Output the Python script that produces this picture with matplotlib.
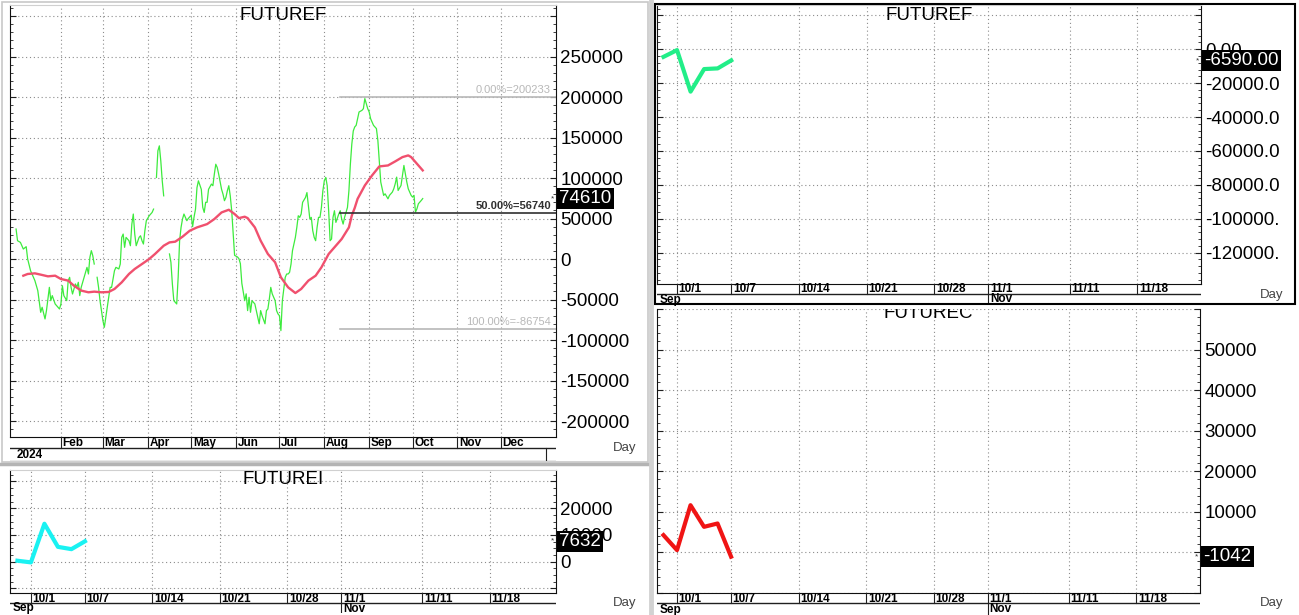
import numpy as np
import pandas as pd
import matplotlib
matplotlib.use("Agg")
import matplotlib.pyplot as plt
import matplotlib.dates as mdates
import matplotlib.transforms as mtransforms
from matplotlib.ticker import MultipleLocator, FuncFormatter
from matplotlib.lines import Line2D
from matplotlib.patches import Rectangle

plt.rcParams['font.family'] = ['Liberation Sans', 'DejaVu Sans']
NARROW = ['Liberation Sans Narrow', 'Liberation Sans']
nan = np.nan

W, H = 1299, 615

# daily FUTUREF 2024, x = days after 2024-01-01
ff_days = [0, 1, 3, 5, 7, 8, 10, 13, 15, 17,
           18, 20, 21, 23, 24, 25, 27, 29, 30, 31,
           32, 33, 35, 36, 37, 38, 39, 41, 42, 43,
           44, 45, 46, 47, 49, 50, 51, 52, 53, 54,
           55, 56, 57, 58, 59, 60, 61, 63, 64, 65,
           66, 68, 69, 71, 72, 73, 74, 75, 76, 78,
           79, 80, 81, 82, 83, 85, 86, 87, 88, 89,
           90, 92, 94, 95, 96, 97, 98, 99, 100, 101,
           102, 104, 106, 107, 108, 109, 111, 112, 113, 114,
           115, 116, 118, 119, 121, 122, 123, 124, 125, 126,
           128, 129, 130, 131, 132, 133, 135, 136, 137, 138,
           139, 140, 142, 143, 144, 145, 146, 147, 148, 149,
           150, 151, 153, 154, 155, 156, 158, 159, 160, 161,
           162, 163, 165, 166, 167, 168, 169, 170, 172, 173,
           174, 175, 176, 177, 179, 180, 181, 182, 183, 184,
           186, 187, 188, 189, 190, 191, 193, 194, 195, 196,
           197, 198, 200, 201, 202, 203, 204, 205, 206, 207,
           208, 209, 210, 211, 212, 213, 214, 215, 216, 217,
           218, 219, 220, 221, 223, 224, 225, 226, 227, 229,
           230, 231, 232, 233, 234, 235, 236, 237, 239, 240,
           241, 242, 243, 244, 245, 246, 247, 248, 249, 250,
           251, 252, 253, 254, 255, 257, 258, 259, 260, 261,
           262, 263, 264, 266, 267, 268, 269, 270, 271, 272,
           273, 274, 275, 276, 277, 278, 279, 280, 281]
ff_vals = [37000, 22600, 20500, 12300, 15200, 0, -14400, -26700, -39000, -65800,
           -59600, -74000, -63700, -35000, -51400, -45200, -55500, -59600, -61700, -55500,
           -33000, -45200, -51400, -26700, -22600, -35000, -43200, -30800, -35000, -28800,
           -45200, -35000, -28800, -22600, -10300, -18500, 2000, 10300, 4100, -6200,
           nan, -22600, -35000, -51400, -63700, -76000, -84300, -59600, -47300, -35000,
           -35000, -14400, -10300, -12300, -6200, 26700, 30800, 14400, 26700, 22600,
           16400, 43100, 55500, 30800, 16400, 26700, 28700, 22600, 18500, 34900,
           47250, 53400, 57500, 61600, nan, 100700, 133600, 139700, 121200, 96600,
           78000, nan, 6200, -4100, -30800, -51400, -55500, -22600, 22600, 39000,
           49300, 55500, 47300, 50000, 54000, 40000, 52000, 61600, 88000, 96500,
           86000, 63700, 57500, 70000, 70000, 86000, 92500, 90500, 104800, 117000,
           113000, 104800, 86000, 80000, 72000, 76000, 84300, 90500, 78000, 59600,
           31000, 4500, 2500, 400, -5700, -30000, -51400, -43000, -63700, -47300,
           -65800, -51400, -55500, -63700, -72000, -80000, -63700, -70000, -80000, -63700,
           -61700, -49300, -35000, -43000, -51400, -63700, -67800, -70000, -88400, -51400,
           -22600, -18500, -18500, -16400, -6200, 10300, 26700, 39000, 53400, 51400,
           55500, 70000, 76000, 82000, 65800, 49300, 51400, 35000, 26700, 22600,
           39000, 51400, 51400, 63700, 84200, 96600, 100700, 90500, 59600, 22600,
           24700, 51400, 59600, 45200, 55500, 59600, 49300, 43100, 51400, 63700,
           84200, 117000, 141800, 158000, 163000, 165000, 173000, 181500, 183500, 185600,
           198000, 191800, 185600, 181500, 173200, 169000, 165000, 163000, 161000, 146400,
           119700, 95000, 86700, 78500, 80500, 74300, 78500, 80500, 82600, 86700,
           92900, 101100, 84600, 90800, 103200, 115500, 105200, 95000, 86700, 82600,
           78500, 76400, 78500, 57900, 62000, 68200, 70200, 72300, 74610]

# moving average
ma_days = [5, 8, 13, 17, 22, 27, 31, 36, 40, 45,
           50, 54, 59, 64, 68, 73, 78, 82, 87, 92,
           96, 102, 106, 110, 115, 120, 125, 132, 137, 142,
           147, 151, 154, 158, 160, 165, 169, 174, 179, 183,
           188, 193, 197, 202, 207, 211, 216, 220, 225, 230,
           232, 234, 236, 241, 246, 251, 257, 262, 267, 271,
           273, 277, 281]
ma_vals = [-20600, -18500, -17700, -19300, -21400, -20600, -24700, -26700, -33000, -39000,
           -41100, -40300, -41100, -40700, -37000, -28800, -18500, -12300, -6200, 0,
           6200, 16400, 20500, 21400, 27500, 34900, 39000, 43100, 49300, 57500,
           60800, 55500, 50500, 52200, 50500, 39000, 22600, 6200, -4100, -22600,
           -35000, -42000, -37000, -26700, -20600, -10300, 6200, 14400, 24700, 39000,
           53700, 63000, 74300, 90800, 103200, 114300, 115500, 120500, 125800, 127900,
           125800, 117600, 109400]

fib_levels = [200233, 56740, -86754]
fib_text = ['0.00%=200233', '50.00%=56740', '100.00%=-86754']
fib_colors = ['#b8b8b8', '#303030', '#b8b8b8']
fib_start = '2024-08-12'

month_names = ['Feb', 'Mar', 'Apr', 'May', 'Jun', 'Jul', 'Aug', 'Sep', 'Oct', 'Nov', 'Dec']

# intraday panels (one point per session)
bar_dates = ['2024-09-30', '2024-10-01', '2024-10-02', '2024-10-03', '2024-10-04', '2024-10-07']
futuref_vals = [-4500, -500, -25000, -11700, -11300, -6590]
futurei_vals = [370, -250, 14200, 5560, 4700, 7632]
futurec_vals = [4260, 570, 11640, 6310, 7130, -1042]
tick_dates = ['2024-10-01', '2024-10-07', '2024-10-14', '2024-10-21',
              '2024-10-28', '2024-11-01', '2024-11-11', '2024-11-18']
tick_labels = ['10/1', '10/7', '10/14', '10/21', '10/28', '11/1', '11/11', '11/18']

sessions = pd.bdate_range('2024-09-27', '2024-11-29')


def pos(ds):
    return sessions.get_indexer(pd.to_datetime(ds))


def px_box(l, t, r, b):
    return [l / W, 1 - b / H, (r - l) / W, (b - t) / H]


def price_axis(ax, ylim, major, minor, labels):
    ax.set_ylim(*ylim)
    ax.yaxis.set_major_locator(MultipleLocator(major))
    ax.yaxis.set_minor_locator(MultipleLocator(minor))
    ax.yaxis.set_major_formatter(FuncFormatter(lambda v, p: labels.get(int(round(v)), '')))
    ax.tick_params(axis='y', which='both', direction='in', left=True, right=True,
                   labelleft=False, labelright=True, labelsize=13.5, pad=3, color='#202020')
    ax.tick_params(axis='y', which='major', length=4)
    ax.tick_params(axis='y', which='minor', length=2.5)
    ax.tick_params(axis='x', which='both', bottom=False, labelbottom=False)
    ax.grid(True, which='major', color='#8c8c8c', lw=0.8, ls=(0, (1, 2.5)))
    for s in ('left', 'right', 'bottom'):
        ax.spines[s].set_color('#101010')
    ax.spines['top'].set_color('#d0d0d0')


def value_tag(ax, value, text):
    tr = mtransforms.blended_transform_factory(ax.transAxes, ax.transData)
    ax.text(1.006, value, text, transform=tr, ha='left', va='center', fontsize=13.5,
            color='white', zorder=6, clip_on=False,
            bbox=dict(boxstyle='square,pad=0.12', fc='black', ec='none'))
    ax.text(0.996, value, '*', transform=tr, ha='right', va='center', fontsize=6, color='#303030')


def band_axes(ax, l, t, r, b):
    bd = fig.add_axes(px_box(l, t, r, b))
    bd.set_xlim(ax.get_xlim())
    bd.set_ylim(b, t)
    bd.axis('off')
    return bd


def session_band(ax, l, t, r, b, split):
    bd = band_axes(ax, l, t, r, b)
    bd.axhline(split, color='#202020', lw=1)
    for x, lab in zip(pos(tick_dates), tick_labels):
        bottom = b if lab == '11/1' else split
        bd.plot([x, x], [t, bottom], color='#202020', lw=0.8)
        bd.annotate(lab, (x, (t + split) / 2 + 0.5), xytext=(1.2, 0), textcoords='offset points',
                    ha='left', va='center', fontsize=8.5, fontweight='bold', family=NARROW)
    bd.annotate('Sep', (bd.get_xlim()[0], (split + b) / 2 + 0.5), xytext=(2, 0),
                textcoords='offset points', ha='left', va='center', fontsize=8.5,
                fontweight='bold', family=NARROW)
    bd.annotate('Nov', (pos(['2024-11-01'])[0], (split + b) / 2 + 0.5), xytext=(1.2, 0),
                textcoords='offset points', ha='left', va='center', fontsize=8.5,
                fontweight='bold', family=NARROW)
    return bd


fig = plt.figure(figsize=(W / 100, H / 100), dpi=100)

# panel frames / separators
fig.add_artist(Rectangle((2 / W, 1 - 462 / H), 646 / W, 460 / H, transform=fig.transFigure,
                         fill=False, ec='#c8c8c8', lw=1.2))
fig.add_artist(Line2D([0, 649 / W], [1 - 464 / H] * 2, color='#b4b4b4', lw=2.5))
fig.add_artist(Line2D([651 / W] * 2, [0, 1], color='#d2d2d2', lw=3.5))

# ---------------- panel 1: daily FUTUREF ----------------
base = pd.Timestamp('2024-01-01')
ax1 = fig.add_axes(px_box(10, 5, 556, 437))
ax1.plot(base + pd.to_timedelta(ff_days, unit='D'), ff_vals, color='#3DEB3D', lw=0.9)
ax1.plot(base + pd.to_timedelta(ma_days, unit='D'), ma_vals, color='#F0506E', lw=1.7)
ax1.set_xlim(base - pd.Timedelta(days=4.2), base + pd.Timedelta(days=373.1))
month_starts = mdates.date2num(pd.date_range('2024-02-01', periods=11, freq='MS').to_pydatetime())
ax1.set_xticks(month_starts)
price_axis(ax1, (-219750, 313580), 50000, 10000,
           {v: str(v) for v in range(-200000, 250001, 50000)})
fx0 = mdates.date2num(pd.Timestamp(fib_start).to_pydatetime())
fx1 = ax1.get_xlim()[1]
tr1 = mtransforms.blended_transform_factory(ax1.transAxes, ax1.transData)
for lvl, txt, col in zip(fib_levels, fib_text, fib_colors):
    ax1.plot([fx0, fx1], [lvl, lvl], color=col, lw=1.2)
    ax1.annotate(txt, (0.991, lvl), xycoords=tr1, xytext=(0, 1.5), textcoords='offset points',
                 ha='right', va='bottom', fontsize=8, color=col, family=NARROW,
                 fontweight='bold' if col == '#303030' else 'normal')
ax1.text(0.5, 1 - 11 / 432, 'FUTUREF', transform=ax1.transAxes, ha='center', va='center',
         fontsize=13.5)
value_tag(ax1, ff_vals[-1], '74610')

bd1 = band_axes(ax1, 10, 437, 556, 461)
bd1.axhline(448, color='#202020', lw=1)
bd1.axhline(460.5, color='#909090', lw=1)
for x, name in zip(month_starts, month_names):
    bd1.plot([x, x], [437, 448], color='#202020', lw=0.8)
    bd1.annotate(name, (x, 443), xytext=(1.2, 0), textcoords='offset points', ha='left',
                 va='center', fontsize=8.5, fontweight='bold', family=NARROW)
bd1.annotate('2024', (bd1.get_xlim()[0], 454.5), xytext=(5, 0), textcoords='offset points',
             ha='left', va='center', fontsize=8.5, fontweight='bold', family=NARROW)
trb = mtransforms.blended_transform_factory(bd1.transAxes, bd1.transData)
bd1.plot([0.982, 0.982], [448, 461], color='#202020', lw=0.8, transform=trb)

# ---------------- panel 2: intraday FUTUREF ----------------
ax2 = fig.add_axes(px_box(657, 5, 1201, 284))
ax2.plot(pos(bar_dates), futuref_vals, color='#22EE88', lw=3)
ax2.set_xlim(0.52, 40.7)
ax2.set_xticks(pos(tick_dates))
price_axis(ax2, (-138500, 26100), 20000, 4000,
           {0: '0.00', -20000: '-20000.0', -40000: '-40000.0', -60000: '-60000.0',
            -80000: '-80000.0', -100000: '-100000.', -120000: '-120000.'})
ax2.text(0.5, 1 - 11 / 279, 'FUTUREF', transform=ax2.transAxes, ha='center', va='center',
         fontsize=13.5)
value_tag(ax2, futuref_vals[-1], '-6590.00')
session_band(ax2, 657, 284, 1201, 304, 294)
fig.add_artist(Rectangle((655 / W, 1 - 304 / H), 640 / W, 300 / H, transform=fig.transFigure,
                         fill=False, ec='black', lw=1.5))

# ---------------- panel 3: FUTUREI ----------------
ax3 = fig.add_axes(px_box(10, 470, 556, 593))
ax3.plot(pos(bar_dates), futurei_vals, color='#19F2F2', lw=3)
ax3.set_xlim(0.45, 40.9)
ax3.set_xticks(pos(tick_dates))
price_axis(ax3, (-11700, 34300), 10000, 2500, {20000: '20000', 10000: '10000', 0: '0'})
ax3.text(0.5, 1 - 10 / 123, 'FUTUREI', transform=ax3.transAxes, ha='center', va='center',
         fontsize=13.5)
value_tag(ax3, futurei_vals[-1], '7632')
session_band(ax3, 10, 593, 556, 613, 603)

# ---------------- panel 4: FUTUREC (title partly hidden under the panel above) ----------------
ax4 = fig.add_axes(px_box(657, 309, 1200, 593))
ax4.plot(pos(bar_dates), futurec_vals, color='#F01414', lw=3)
ax4.set_xlim(0.52, 40.7)
ax4.set_xticks(pos(tick_dates))
price_axis(ax4, (-10000, 60000), 10000, 2000,
           {50000: '50000', 40000: '40000', 30000: '30000', 20000: '20000', 10000: '10000', 0: '0'})
ax4.spines['top'].set_visible(False)
ax4.text(0.5, 1 - 9.5 / 284, 'FUTUREC', transform=ax4.transAxes, ha='center', va='baseline',
         fontsize=13.5, clip_on=True)
value_tag(ax4, futurec_vals[-1], '-1042')
session_band(ax4, 657, 593, 1200, 615, 603)

# "Day" captions
for x, y in [(625, 448), (1272, 295), (625, 603), (1272, 603)]:
    fig.text(x / W, 1 - y / H, 'Day', ha='center', va='center', fontsize=9.5,
             color='#444444', family=NARROW)

fig.savefig('out.png', dpi=100)
